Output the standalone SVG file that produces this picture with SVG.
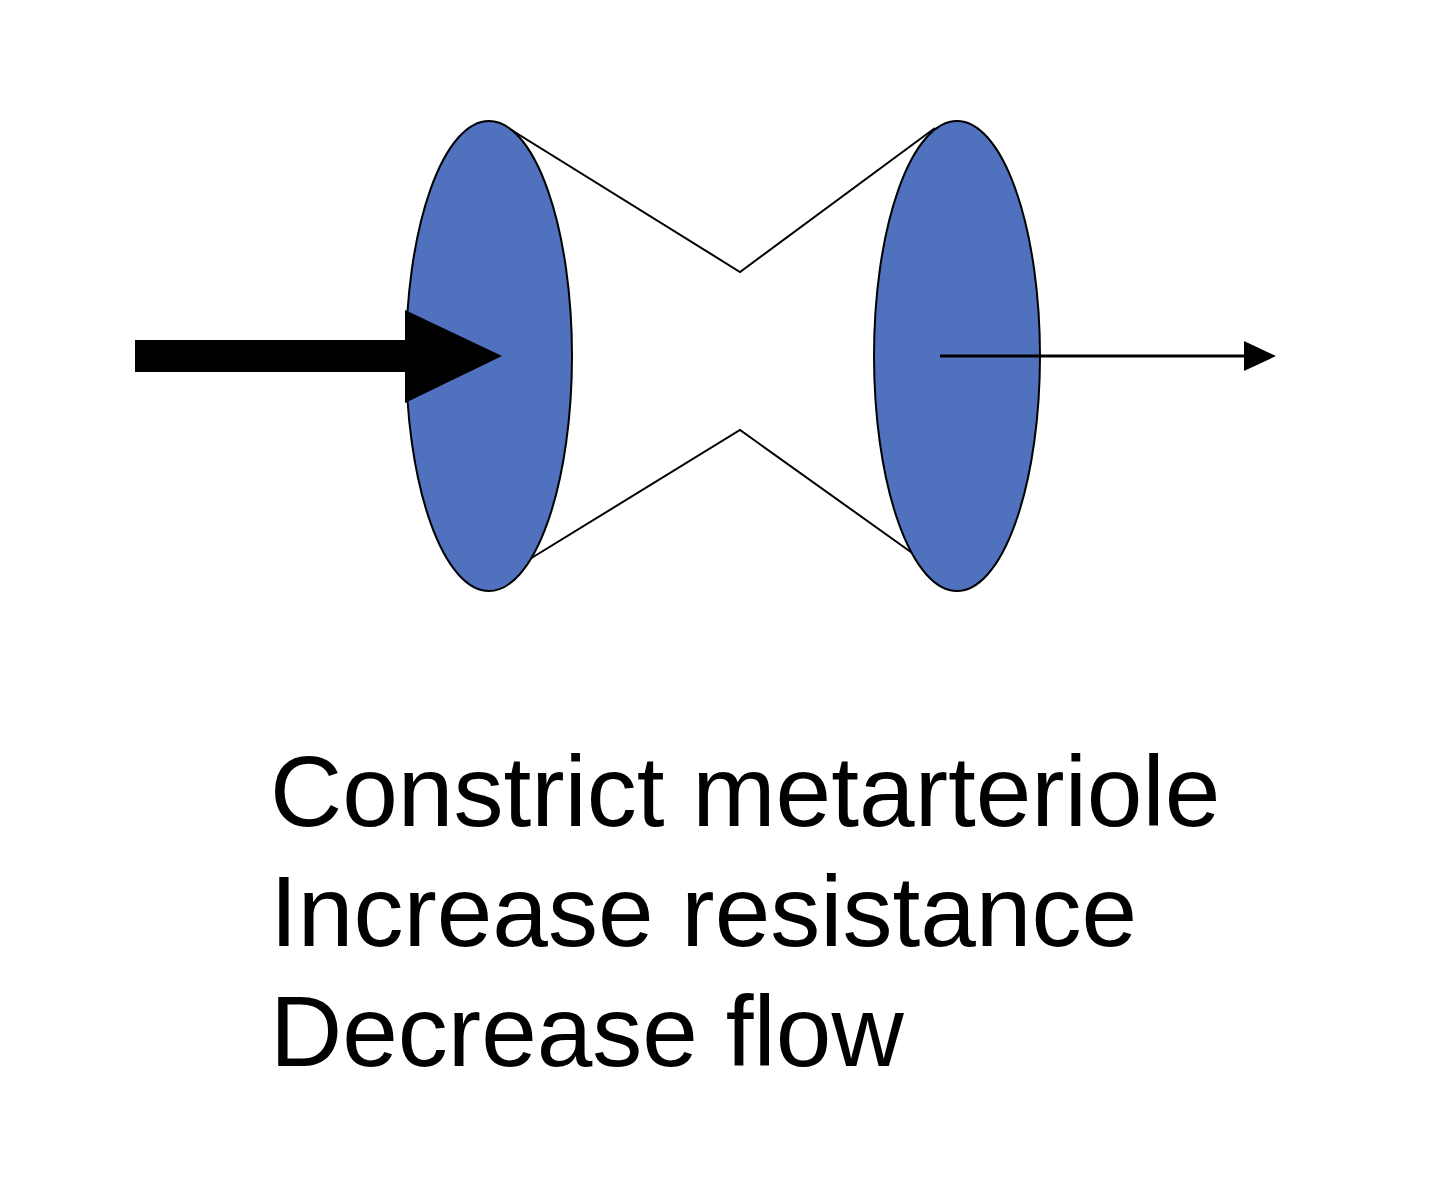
<svg xmlns="http://www.w3.org/2000/svg" width="1440" height="1200" viewBox="0 0 1440 1200">
<style>
.end{fill:#4F71BE;stroke:#000;stroke-width:2}
.t{font-family:"Liberation Sans",Arial,sans-serif;font-size:100px;fill:#000}
</style>
<rect width="1440" height="1200" fill="#fff"/>
<g id="vessel">
<path d="M505,126 L740,272 L935,128 M525,562 L740,430 L915,555" fill="none" stroke="#000" stroke-width="2"/>
</g>
<g id="left-end"><ellipse class="end" cx="489" cy="356" rx="83" ry="235"/></g>
<g id="right-end"><ellipse class="end" cx="957" cy="356" rx="83" ry="235"/></g>
<g id="connectors">
<rect x="135" y="340" width="275" height="32" fill="#000"/>
<polygon points="405,310 502,356 405,403" fill="#000"/>
<line x1="940" y1="356" x2="1250" y2="356" stroke="#000" stroke-width="3"/>
<polygon points="1244,341 1276,356 1244,371" fill="#000"/>
</g>
<g id="label">
<text class="t" x="270" y="826">Constrict metarteriole</text>
<text class="t" x="270" y="946">Increase resistance</text>
<text class="t" x="270" y="1066">Decrease flow</text>
</g>
</svg>
